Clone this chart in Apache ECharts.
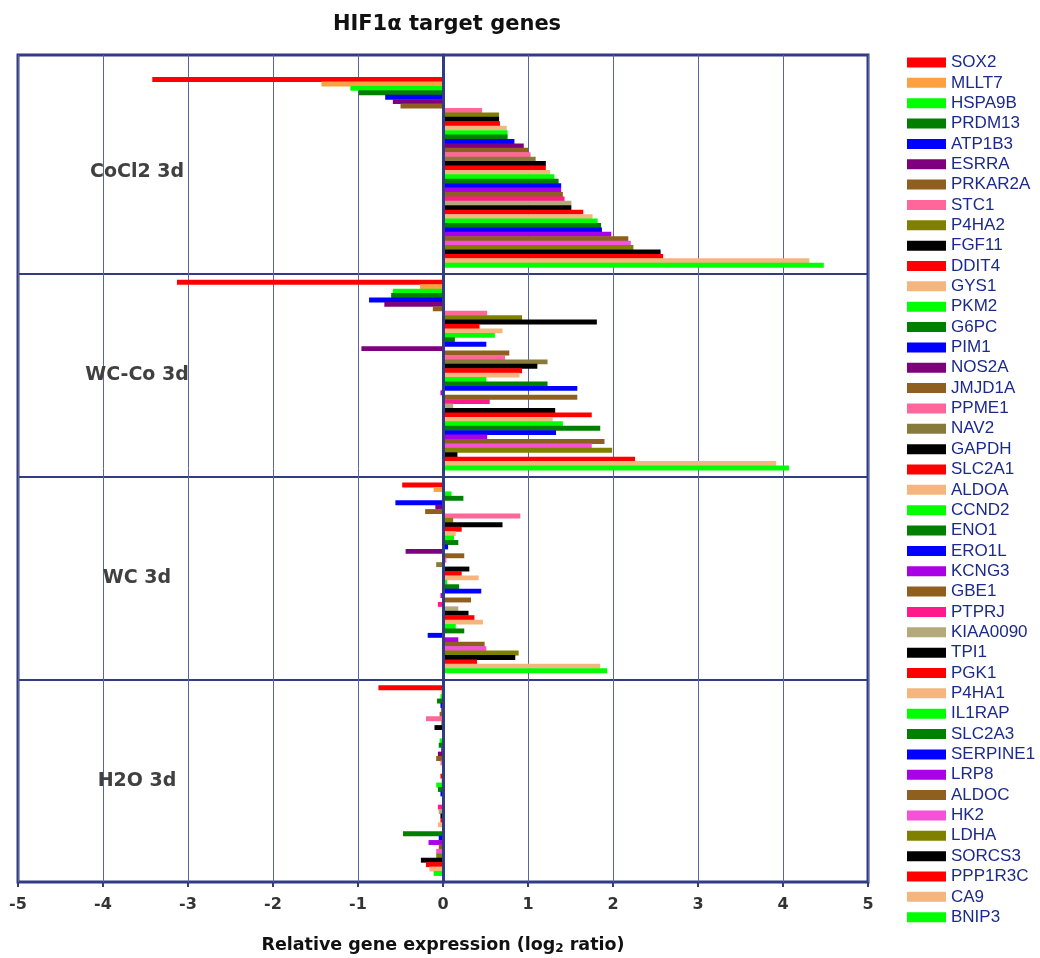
<!DOCTYPE html>
<html><head><meta charset="utf-8">
<script src="https://cdn.jsdelivr.net/npm/echarts@6/dist/echarts.min.js"></script>
<style>html,body{margin:0;padding:0;background:#fff}#c{width:1040px;height:958px}</style>
</head><body><div id="c"></div>
<script>
const categories = ['CoCl2 3d', 'WC-Co 3d', 'WC 3d', 'H2O 3d'];
const genes = ['SOX2','MLLT7','HSPA9B','PRDM13','ATP1B3','ESRRA','PRKAR2A','STC1','P4HA2','FGF11','DDIT4',
  'GYS1','PKM2','G6PC','PIM1','NOS2A','JMJD1A','PPME1','NAV2','GAPDH','SLC2A1','ALDOA','CCND2','ENO1',
  'ERO1L','KCNG3','GBE1','PTPRJ','KIAA0090','TPI1','PGK1','P4HA1','IL1RAP','SLC2A3','SERPINE1','LRP8',
  'ALDOC','HK2','LDHA','SORCS3','PPP1R3C','CA9','BNIP3'];
const colors = ['#FF0000','#FFA040','#00FF00','#007F00','#0000FF','#7F007F','#8F5F1F','#FF6699','#808000','#000000','#FF0000',
  '#F5B57F','#00FF00','#007F00','#0000FF','#7F007F','#8F5F1F','#FF6699','#867B3A','#000000','#FF0000','#F5B57F','#00FF00','#007F00',
  '#0000FF','#AA00E6','#8F5F1F','#FF1A8C','#B4A97A','#000000','#FF0000','#F5B57F','#00FF00','#007F00','#0000FF','#AA00E6',
  '#8F5F1F','#F552D8','#808000','#000000','#FF0000','#F5B57F','#00FF00'];
const CoCl2 = [-3.42,-1.43,-1.09,-0.99,-0.68,-0.59,-0.50,0.46,0.66,0.66,0.67,0.75,0.76,0.76,0.84,0.95,1.00,1.03,1.09,1.21,1.21,
  1.26,1.31,1.36,1.39,1.39,1.41,1.43,1.51,1.51,1.65,1.76,1.82,1.86,1.87,1.98,2.18,2.21,2.24,2.56,2.59,4.31,4.48];
const WCCo = [-3.13,-0.27,-0.59,-0.61,-0.87,-0.69,-0.12,0.52,0.93,1.81,0.43,0.70,0.61,0.14,0.51,-0.96,0.78,0.73,1.23,1.11,0.93,
  0.90,0.51,1.23,1.58,-0.03,1.58,0.55,0.12,1.32,1.75,1.29,1.41,1.85,1.33,0.52,1.90,1.75,1.99,0.17,2.26,3.92,4.07];
const WC = [-0.48,-0.11,0.10,0.24,-0.56,-0.09,-0.21,0.91,0.12,0.70,0.22,0.15,0.13,0.18,0.06,-0.44,0.25,0.04,-0.08,0.31,0.22,
  0.42,0.05,0.19,0.45,-0.03,0.33,-0.06,0.18,0.30,0.37,0.47,0.15,0.25,-0.18,0.18,0.49,0.51,0.89,0.85,0.40,1.85,1.93];
const H2O = [-0.76,-0.02,-0.03,-0.07,-0.03,-0.02,-0.04,-0.20,-0.02,-0.10,-0.01,-0.01,-0.04,-0.05,-0.02,-0.06,-0.08,-0.03,-0.01,-0.01,
  -0.03,-0.02,-0.08,-0.06,-0.03,-0.01,-0.01,-0.06,-0.05,-0.03,-0.03,-0.06,-0.01,-0.47,-0.05,-0.17,-0.05,-0.08,-0.08,-0.26,-0.20,-0.16,-0.11];
const xMin = -5, xMax = 5, xInterval = 1;

const navy = '#323C82';
const bold = 'DejaVu Sans';
const chart = echarts.init(document.getElementById('c'), null, {renderer: 'canvas'});
chart.setOption({
  animation: false,
  backgroundColor: '#ffffff',
  title: {
    text: 'HIF1α target genes', left: 442, top: 9, textAlign: 'center',
    textStyle: {fontSize: 21, fontWeight: 'bold', color: '#111', fontFamily: bold}
  },
  legend: {
    orient: 'vertical', left: 902, top: 49, bottom: 0, itemWidth: 39, itemHeight: 10, itemGap: 3.35, icon: 'rect',
    textStyle: {fontSize: 17, lineHeight: 16, color: '#1c2a8c', fontFamily: 'Liberation Sans, Arial'},
    data: genes
  },
  grid: [
    {left: 18, right: 172, top: 71, bottom: 76, containLabel: false, outerBoundsMode: 'none'},
    {left: 18, right: 172, top: 55, bottom: 76, containLabel: false, outerBoundsMode: 'none',
      show: true, borderColor: navy, borderWidth: 3}
  ],
  xAxis: [
    {gridIndex: 0, type: 'value', min: xMin, max: xMax, interval: xInterval,
      axisLine: {show: false},
      axisTick: {show: true, length: 5, lineStyle: {color: navy, width: 2}},
      axisLabel: {fontSize: 16, fontWeight: 'bold', color: '#333', margin: 15, fontFamily: bold},
      splitLine: {show: false},
      name: '{a|Relative gene expression (log}{s|2}{a| ratio)}', nameLocation: 'middle', nameGap: 53,
      nameTextStyle: {rich: {
        a: {fontSize: 17.5, fontWeight: 'bold', color: '#111', fontFamily: bold},
        s: {fontSize: 12, fontWeight: 'bold', color: '#111', fontFamily: bold, padding: [8, 0, 0, 0]}
      }}
    },
    {gridIndex: 1, type: 'value', min: xMin, max: xMax, interval: xInterval,
      axisLine: {show: false}, axisTick: {show: false}, axisLabel: {show: false},
      splitLine: {show: true, lineStyle: {color: '#5a64a0', width: 1}}
    }
  ],
  yAxis: [
    {gridIndex: 0, type: 'category', data: categories, inverse: true,
      axisLine: {show: false}, axisTick: {show: false},
      axisLabel: {inside: true, margin: 119, align: 'center', fontSize: 19, fontWeight: 'bold', color: '#404040',
        fontFamily: bold, padding: [12, 0, 0, 0]},
      splitLine: {show: true, interval: function (i) { return i !== 0; }, lineStyle: {color: navy, width: 2}}
    },
    {gridIndex: 1, type: 'value', min: 0, max: 1, z: 10,
      axisLine: {show: true, onZero: true, lineStyle: {color: navy, width: 3}},
      axisTick: {show: false}, axisLabel: {show: false}, splitLine: {show: false}
    }
  ],
  series: genes.map(function (g, i) {
    return {
      name: g, type: 'bar', xAxisIndex: 0, yAxisIndex: 0,
      barGap: '-10%', barCategoryGap: '6%',
      itemStyle: {color: colors[i]},
      data: [CoCl2[i], WCCo[i], WC[i], H2O[i]]
    };
  })
});
</script></body></html>
